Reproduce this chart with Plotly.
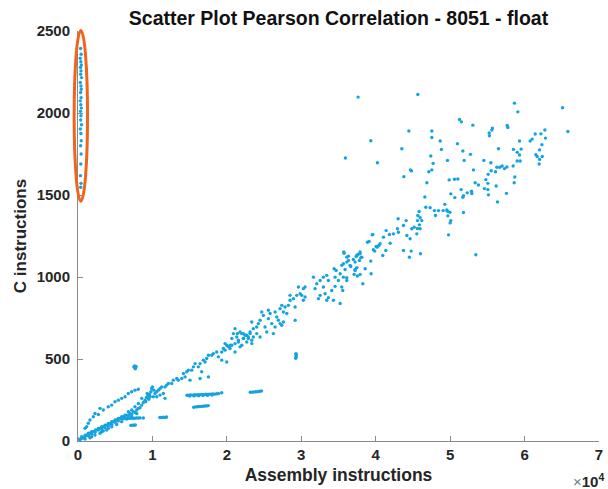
import plotly.graph_objects as go

# ---------------- data ----------------
band_low_x = [270, 490, 720, 940, 1170, 1390, 1610, 1840, 2060, 2290, 2380, 2730, 2960, 3180, 3400, 3630, 3850, 4080,
              4300, 4530, 4750, 4970, 5200, 5420, 5650, 5870, 6090, 6320, 6540, 6770, 6990, 7210, 7440, 7660, 7890, 8110,
              8330, 8560, 8780, 9000, 8560, 8110, 7660, 7210, 6770, 6320, 5870, 5420, 4970, 4530, 4080, 3630, 3180, 2730,
              2290, 1840, 1390, 940, 490, 50, 1840, 2290, 3180, 3850, 4530, 5200, 5870, 6540, 7210, 7890, 2960, 1610,
              940, 4080, 3400]
band_low_y = [6, 16, 20, 26, 36, 32, 47, 41, 57, 53, 67, 67, 77, 73, 87, 81, 97, 91,
              107, 101, 118, 114, 128, 122, 138, 134, 148, 142, 158, 154, 168, 162, 178, 174, 189, 199,
              203, 219, 235, 249, 260, 229, 209, 189, 178, 158, 148, 138, 128, 118, 107, 97, 87, 77,
              61, 57, 47, 36, 26, 12, 26, 36, 57, 67, 87, 101, 118, 134, 148, 168, 47, 20,
              12, 77, 61]

band_up_x = [940, 1160, 1380, 1610, 2060, 2280, 2730, 2960, 3400, 4070, 4530, 4970, 5420, 5870, 6320, 6760, 7210, 7660, 8100,
             9200, 9400, 9600, 9300, 9800, 9500, 9900, 10000, 10200, 9100, 9700]
band_up_y = [77, 87, 108, 128, 148, 168, 162, 199, 189, 209, 219, 239, 249, 260, 270, 290, 300, 310, 316,
             265, 275, 285, 290, 300, 255, 320, 330, 310, 240, 270]

mid_x = [21100, 21420, 21770, 22220, 22670, 23120, 22890, 22220, 21550, 21100, 20660, 20430, 20200, 19760, 19760, 19310,
         18640, 18860, 18190, 17970, 17520, 17290, 16840, 17070, 16400, 16170, 15730, 15500, 15280, 14830, 14610, 14160,
         14380, 13940, 13480, 13270, 12810, 12590, 12140, 11920, 11690, 11250, 11020, 10790, 10580, 10350, 10120, 10580,
         11020, 11470, 16400, 17520, 19980, 19310, 16620, 15050, 23560, 24010, 24460, 23350, 21770, 21100, 11690,
         20880, 20660, 21330, 22000, 22220, 22450, 22890, 23120, 22670, 21550, 20430, 19980, 19530, 22000, 23350]
mid_y = [685, 655, 665, 655, 645, 655, 625, 625, 614, 594, 584, 564, 574, 594, 554, 543,
         543, 513, 533, 523, 523, 503, 493, 482, 472, 452, 472, 452, 432, 432, 422, 412,
         391, 381, 371, 381, 371, 351, 351, 341, 330, 330, 320, 310, 300, 290, 270, 270,
         280, 290, 381, 391, 482, 493, 422, 371, 634, 655, 634, 594, 574, 543, 260,
         655, 625, 634, 655, 625, 645, 634, 665, 604, 604, 584, 584, 564, 584, 614]

upper_mid_x = [39610, 39110, 39690, 39870, 40190, 40410, 35710, 37900, 37590, 38130, 37810, 37370, 36110, 36330, 35660,
               36650, 37230, 37230, 37460, 38580, 39380, 37900, 34410, 34680, 35220, 34540, 35660, 34990, 36110, 35440,
               35570, 34540, 34090, 33420, 32970, 32530, 32080, 31850, 32970, 33640, 33200, 33640, 33420, 32300, 32530,
               31630, 35220, 34320, 38270, 30280, 30510, 29610, 29840, 29390, 28940, 28490, 28490, 28270, 27820, 27150,
               27380, 27600, 28050, 29170, 30280, 30510, 30060, 24690, 24910, 24460, 24240, 25580, 25810, 26480, 26700,
               26920, 27150, 27380, 27600, 26480, 26030, 25130, 25360, 26250, 25580, 24010, 23560, 23350, 29170]
upper_mid_y = [1259, 1217, 1166, 1158, 1182, 1192, 1152, 1152, 1137, 1121, 1101, 1125, 1121, 1101, 1081,
               1064, 1091, 1040, 1057, 1050, 1020, 1016, 1050, 1040, 1020, 999, 999, 979, 979, 939,
               918, 943, 918, 1010, 999, 979, 959, 929, 939, 979, 898, 874, 858, 868, 888,
               999, 838, 858, 959, 929, 939, 939, 898, 888, 868, 858, 888, 827, 817, 807,
               827, 787, 777, 817, 858, 878, 888, 787, 766, 736, 716, 797, 777, 787, 756,
               736, 716, 706, 726, 695, 716, 695, 665, 655, 746, 695, 685, 726, 736]

high_x = [37630, 45660, 35930, 39340, 40230, 44450, 43510, 44670, 44800, 43780, 47540, 47540, 47400, 47720, 47540, 47140,
          46870, 46600, 53450, 49780, 46730, 47310, 47890, 48430, 48030, 45830, 45660, 45970, 45610, 46190, 45870, 45610,
          45160, 44850, 45970, 45520, 44090, 43730, 43010, 42920, 42380, 43050, 44180, 44620, 41840, 41400, 41040, 41940,
          40590, 40050, 41360, 40950, 43730, 44760, 44530, 46010, 39340, 38890, 39520, 37900, 37460, 38000, 37000, 36330,
          36110, 35750, 35440, 35890, 36560, 37230, 37100, 37540, 36110]
high_y = [2097, 2113, 1726, 1831, 1697, 1890, 1782, 1653, 1647, 1612, 1890, 1851, 1738, 1693, 1653, 1642,
          1575, 1488, 1136, 1257, 1425, 1423, 1405, 1405, 1375, 1399, 1375, 1361, 1344, 1344, 1318, 1296,
          1304, 1294, 1294, 1263, 1344, 1314, 1355, 1294, 1263, 1273, 1253, 1233, 1259, 1283, 1243, 1206,
          1203, 1186, 1162, 1131, 1162, 1158, 1121, 1142, 1097, 1212, 1257, 1142, 1131, 1117, 1107, 1127,
          1091, 1145, 1071, 1046, 1071, 1046, 1016, 1006, 996]

top_x = [58640, 59100, 65100, 65820, 51250, 51520, 53050, 55690, 55600, 55240, 55280, 57660, 57750, 48660, 48830, 50980,
         51710, 52730, 49640, 51880, 54530, 55470, 56500, 59320, 58510, 59010, 59320, 59540, 59010, 59410, 58470, 60750,
         61020, 61430, 62190, 62730, 62810, 62330, 62010, 61520, 61690, 62370, 62010, 61960, 53130, 55510, 56090, 56270,
         56670, 56990, 57300, 57620, 55110, 54800, 55070, 58690, 58600, 49870, 50580, 51030, 53360, 53800, 54610, 55070,
         56180, 51480, 52290, 52870, 52910, 50090, 50630, 51710, 51790, 55150, 57570, 56360, 49280, 49060, 49550, 49640,
         49960, 49690, 51790, 50090, 50000]
top_y = [2060, 2007, 2032, 1887, 1960, 1946, 1926, 1908, 1896, 1878, 1861, 1924, 1912, 1829, 1778, 1813,
         1768, 1748, 1711, 1711, 1711, 1697, 1782, 1829, 1778, 1760, 1744, 1780, 1707, 1707, 1677, 1829,
         1841, 1872, 1873, 1896, 1847, 1807, 1775, 1746, 1735, 1735, 1717, 1689, 1653, 1648, 1642, 1669,
         1669, 1677, 1661, 1671, 1626, 1594, 1571, 1610, 1575, 1592, 1596, 1598, 1575, 1561, 1539, 1533,
         1555, 1533, 1513, 1523, 1509, 1507, 1484, 1486, 1496, 1501, 1510, 1458, 1443, 1405, 1409, 1401,
         1395, 1373, 1393, 1344, 1330]

# horizontal / vertical streaks
streak_x = [14650, 14900, 15150, 15400, 15650, 15900, 16150, 16400, 16650, 16900, 17150, 17400, 17650, 17900, 18150,
            18400, 18650, 18900, 19310, 15000, 15600, 16200, 16800, 17400, 18000,
            15550, 15800, 16050, 16300, 16550, 16800, 17050, 17300, 17500,
            23150, 23400, 23650, 23900, 24150, 24400, 24650,
            6100, 6350, 6600, 6850, 7100, 7350, 7600, 7850, 8100, 8350, 8780,
            7100, 7300, 7500, 7700,
            11000, 11250, 11500, 11750, 11900,
            7500, 7600, 7650, 7700, 7750, 7800, 7680,
            29250, 29300, 29300, 29320, 29280]
streak_y = [279, 280, 281, 280, 282, 281, 283, 282, 284, 283, 285, 284, 286, 285, 287,
            286, 288, 289, 294, 274, 275, 276, 277, 278, 280,
            206, 208, 209, 210, 211, 212, 213, 214, 216,
            297, 298, 299, 300, 301, 303, 305,
            136, 137, 137, 138, 138, 139, 139, 140, 140, 141, 140,
            95, 97, 96, 98,
            143, 144, 145, 144, 146,
            452, 458, 445, 440, 448, 455, 450,
            505, 512, 520, 528, 533]

# outlier column at x ~ 0 (circled in the reference)
outlier_x = [350, 420, 300, 380, 450, 330, 400, 360, 470, 310, 390, 440, 350, 420, 300,
             380, 450, 330, 400, 360, 470, 310, 390, 440, 350, 420, 380, 330, 400, 360]
outlier_y = [2393, 2358, 2334, 2313, 2293, 2277, 2257, 2236, 2216, 2186, 2165, 2145, 2125, 2094, 2074,
             2050, 2030, 2010, 1983, 1957, 1928, 1902, 1875, 1831, 1800, 1750, 1689, 1618, 1571, 1547]

x_tick_vals = [0, 10000, 20000, 30000, 40000, 50000, 60000, 70000]
x_tick_text = ["0", "1", "2", "3", "4", "5", "6", "7"]
y_tick_vals = [0, 500, 1000, 1500, 2000, 2500]
x_range = [0, 70000]
y_range = [0, 2500]

# ---------------- figure ----------------
all_x = band_low_x + band_up_x + mid_x + upper_mid_x + high_x + top_x + streak_x + outlier_x
all_y = band_low_y + band_up_y + mid_y + upper_mid_y + high_y + top_y + streak_y + outlier_y

DOT = "#14A3E0"
fig = go.Figure()
fig.add_trace(go.Scatter(x=all_x, y=all_y, mode="markers",
                         marker=dict(size=3.4, color=DOT, line=dict(width=0)),
                         hoverinfo="skip", showlegend=False))

# ellipse around the outlier column, derived from its data (in axis-domain units so it is not clipped)
cx = sum(outlier_x) / len(outlier_x)
half_w = 900
ex0 = (cx - half_w - x_range[0]) / (x_range[1] - x_range[0])
ex1 = (cx + half_w - x_range[0]) / (x_range[1] - x_range[0])
ey0 = (min(outlier_y) - 85 - y_range[0]) / (y_range[1] - y_range[0])
ey1 = (max(outlier_y) + 110 - y_range[0]) / (y_range[1] - y_range[0])
fig.add_shape(type="circle", xref="x domain", yref="y domain", x0=ex0, x1=ex1, y0=ey0, y1=ey1,
              line=dict(color="#F0641E", width=3), layer="above")

FONT = "Liberation Sans"
AX = "#8a8a8a"
TICKF = dict(family=FONT, size=15, color="#262626")

W, H = 608, 489
fig.update_layout(
    width=W, height=H,
    margin=dict(l=78, r=9, t=31, b=48, autoexpand=False),
    paper_bgcolor="white", plot_bgcolor="white",
    title=dict(text="<b>Scatter Plot Pearson Correlation - 8051 - float</b>",
               font=dict(family=FONT, size=19.5, color="#111"),
               x=0.5, xref="paper", xanchor="center", y=1 - 18 / H, yanchor="middle"),
    xaxis=dict(range=x_range, tickvals=x_tick_vals, ticktext=["<b>%s</b>" % t for t in x_tick_text],
               showgrid=False, zeroline=False, showline=True, linecolor=AX, linewidth=1, automargin=False,
               ticks="inside", ticklen=5, tickcolor=AX, tickfont=TICKF,
               title=dict(text="<b>Assembly instructions</b>", font=dict(family=FONT, size=17.5, color="#262626"),
                          standoff=6)),
    yaxis=dict(range=y_range, tickvals=y_tick_vals, ticktext=["<b>%d</b>" % v for v in y_tick_vals],
               showgrid=False, zeroline=False, showline=True, linecolor=AX, linewidth=1, automargin=False,
               ticks="inside", ticklen=5, tickcolor=AX, tickfont=TICKF, ticklabelstandoff=4,
               title=dict(text="<b>C instructions</b>", font=dict(family=FONT, size=17, color="#262626"),
                          standoff=5)),
    annotations=[dict(text="<span style='color:#777'>×</span><b>10<sup>4</sup></b>", xref="paper", yref="paper",
                      x=1.0, y=-39 / 410, xanchor="right", yanchor="middle", xshift=7, showarrow=False,
                      font=dict(family=FONT, size=15, color="#262626"))],
)

# remove the default page margin so the figure sits at the window's top-left corner
fig.write_html("out.html",
               config={"displayModeBar": False, "staticPlot": True},
               post_script="document.body.style.margin='0';document.body.style.overflow='hidden';")
